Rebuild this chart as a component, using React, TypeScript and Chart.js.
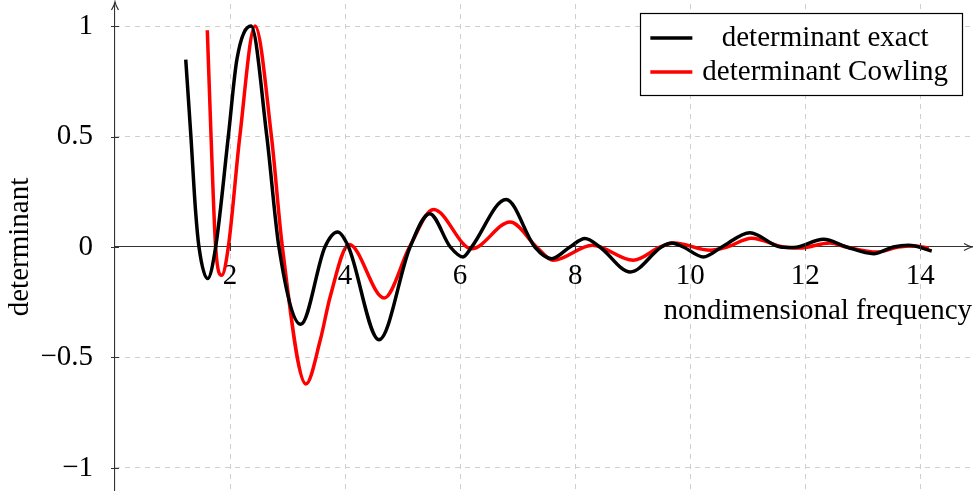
import { useEffect, useRef } from "react";
import { Chart, registerables } from "chart.js";
import type { Plugin } from "chart.js";

Chart.register(...registerables);

// Determinant vs. nondimensional frequency: exact problem
const EXACT_FREQ = [
  1.23, 1.32, 1.4, 1.46, 1.61, 1.75, 1.97, 2.12, 2.365, 2.64, 2.85, 3.23, 3.65,
  3.87, 4.06, 4.59, 5.13, 5.47, 5.83, 6.05, 6.2, 6.8, 7.3, 7.59, 7.91, 8.17,
  8.43, 8.96, 9.5, 9.68, 9.88, 10.23, 10.55, 11.04, 11.57, 11.8, 12.32, 12.72,
  13.19, 13.53, 13.8, 14.2,
];
const EXACT_DET = [
  0.848, 0.5, 0.166, 0, -0.143, 0, 0.5, 0.85, 1.0, 0.5, 0, -0.35, 0, 0.068, 0,
  -0.42, 0, 0.151, 0, -0.045, 0, 0.215, 0, -0.053, 0, 0.038, 0, -0.113, 0,
  0.018, 0, -0.045, 0, 0.065, 0, -0.002, 0.035, 0, -0.03, 0, 0.008, -0.018,
];

// Determinant under the Cowling approximation
const COWLING_FREQ = [
  1.605, 1.67, 1.75, 1.855, 1.97, 2.17, 2.435, 2.72, 2.91, 3.32, 3.57, 3.74,
  4.07, 4.68, 5.12, 5.54, 6.2, 6.87, 7.33, 7.62, 8.3, 9.01, 9.48, 9.72, 10.35,
  10.64, 11.07, 11.62, 11.9, 12.43, 12.72, 13.25, 13.62, 13.89, 14.15,
];
const COWLING_DET = [
  0.981, 0.5, 0, -0.128, 0, 0.5, 1.0, 0.5, 0, -0.62, -0.42, -0.226, 0.011,
  -0.231, 0, 0.17, -0.008, 0.113, 0, -0.06, 0.008, -0.06, 0, 0.018, -0.015, 0,
  0.04, 0, -0.005, 0.018, 0, -0.023, 0, 0.005, -0.005,
];

const SERIES_NAMES = ["determinant exact", "determinant Cowling"];
const SERIES_COLORS = ["#000000", "#ff0000"];
const X_TICKS = [2, 4, 6, 8, 10, 12, 14];
const Y_TICKS = [-1, -0.5, 0, 0.5, 1];
const X_TITLE = "nondimensional frequency";
const Y_TITLE = "determinant";

const FONT_FAMILY = '"Liberation Serif", "Times New Roman", serif';
const FONT_SIZE = 29;
const AXIS_COLOR = "#333333";
const GRID_COLOR = "#cfcfcf";

const toPoints = (xs: number[], ys: number[]) =>
  xs.map((x, i) => ({ x, y: ys[i] }));

const formatTick = (v: number) =>
  v < 0 ? "\u2212" + String(-v) : String(v);

// Axis arrows, small tick marks across the axes, and a boxed legend
const axisDecor: Plugin = {
  id: "axisDecor",
  afterDatasetsDraw(chart) {
    const { ctx, chartArea, scales } = chart;
    const xs = scales.x;
    const ys = scales.y;
    const y0 = ys.getPixelForValue(0);
    const left = chartArea.left;
    const right = chartArea.right;
    ctx.save();
    ctx.strokeStyle = AXIS_COLOR;
    ctx.lineWidth = 1.1;
    // tick marks
    ctx.beginPath();
    for (const v of Y_TICKS) {
      const py = Math.round(ys.getPixelForValue(v)) + 0.5;
      ctx.moveTo(left - 4, py);
      ctx.lineTo(left + 4, py);
    }
    for (const v of X_TICKS) {
      const px = Math.round(xs.getPixelForValue(v)) + 0.5;
      ctx.moveTo(px, y0 - 4);
      ctx.lineTo(px, y0 + 4);
    }
    ctx.stroke();
    // y-axis extension and arrow head
    const tipY = chartArea.top - 2;
    ctx.beginPath();
    ctx.moveTo(left, chartArea.top);
    ctx.lineTo(left, tipY);
    ctx.stroke();
    ctx.lineWidth = 1.2;
    ctx.beginPath();
    ctx.moveTo(left - 3.5, tipY + 8);
    ctx.quadraticCurveTo(left - 0.6, tipY + 3, left, tipY);
    ctx.quadraticCurveTo(left + 0.6, tipY + 3, left + 3.5, tipY + 8);
    ctx.stroke();
    // x-axis arrow head
    ctx.beginPath();
    ctx.moveTo(right - 8, y0 - 3.5);
    ctx.quadraticCurveTo(right - 3, y0 - 0.6, right, y0);
    ctx.quadraticCurveTo(right - 3, y0 + 0.6, right - 8, y0 + 3.5);
    ctx.stroke();
    ctx.restore();
  },
  afterDraw(chart) {
    const { ctx, chartArea } = chart;
    const datasets = chart.data.datasets;
    ctx.save();
    ctx.font = `${FONT_SIZE}px ${FONT_FAMILY}`;
    const labels = datasets.map((d) => String(d.label));
    const textW = Math.max(...labels.map((l) => ctx.measureText(l).width));
    const padL = 10;
    const sampleW = 42;
    const gap = 10;
    const padR = 14;
    const rowH = 34;
    const padT = 8;
    const padB = 6;
    const boxW = padL + sampleW + gap + textW + padR;
    const boxH = padT + rowH * labels.length + padB;
    const boxRight = chartArea.right - 10;
    const boxTop = chartArea.top + 9;
    const boxLeft = boxRight - boxW;
    ctx.fillStyle = "#ffffff";
    ctx.fillRect(boxLeft, boxTop, boxW, boxH);
    ctx.strokeStyle = "#000000";
    ctx.lineWidth = 1.2;
    ctx.strokeRect(
      Math.round(boxLeft) + 0.5,
      Math.round(boxTop) + 0.5,
      Math.round(boxW),
      Math.round(boxH)
    );
    const textCenter = boxLeft + padL + sampleW + gap + textW / 2;
    labels.forEach((label, i) => {
      const cy = boxTop + padT + rowH * i + rowH / 2;
      ctx.strokeStyle = String(datasets[i].borderColor);
      ctx.lineWidth = 3.5;
      ctx.beginPath();
      ctx.moveTo(boxLeft + padL, cy);
      ctx.lineTo(boxLeft + padL + sampleW, cy);
      ctx.stroke();
      ctx.fillStyle = "#000000";
      ctx.textAlign = "center";
      ctx.textBaseline = "middle";
      ctx.fillText(label, textCenter, cy);
    });
    ctx.restore();
  },
};

export default function App() {
  const canvasRef = useRef<HTMLCanvasElement | null>(null);

  useEffect(() => {
    const canvas = canvasRef.current;
    if (!canvas) return;
    const font = { family: FONT_FAMILY, size: FONT_SIZE };
    const chart = new Chart(canvas, {
      type: "line",
      data: {
        datasets: [
          {
            label: SERIES_NAMES[0],
            data: toPoints(EXACT_FREQ, EXACT_DET),
            borderColor: SERIES_COLORS[0],
            borderWidth: 3.5,
            pointRadius: 0,
            cubicInterpolationMode: "monotone",
            fill: false,
          },
          {
            label: SERIES_NAMES[1],
            data: toPoints(COWLING_FREQ, COWLING_DET),
            borderColor: SERIES_COLORS[1],
            borderWidth: 3.5,
            pointRadius: 0,
            cubicInterpolationMode: "monotone",
            fill: false,
          },
        ],
      },
      options: {
        responsive: false,
        animation: false,
        devicePixelRatio: 1,
        layout: { padding: { left: 0, right: 1, top: 4, bottom: 1 } },
        plugins: {
          legend: { display: false },
          tooltip: { enabled: false },
        },
        scales: {
          x: {
            type: "linear",
            position: { y: 0 },
            min: 0,
            max: 14.9,
            afterBuildTicks: (scale) => {
              scale.ticks = X_TICKS.map((value) => ({ value }));
            },
            afterFit: (scale) => {
              scale.paddingLeft = 0;
              scale.paddingRight = 0;
            },
            ticks: {
              font,
              color: "#000000",
              padding: 12,
              maxRotation: 0,
              autoSkip: false,
              callback: (v) => formatTick(Number(v)),
            },
            grid: {
              color: GRID_COLOR,
              lineWidth: 1,
              drawTicks: false,
            },
            border: {
              display: true,
              color: AXIS_COLOR,
              width: 1.1,
              dash: [5, 5],
            },
            title: {
              display: true,
              text: X_TITLE,
              align: "end",
              font,
              color: "#000000",
              padding: { top: -12, bottom: 0 },
            },
          },
          y: {
            type: "linear",
            position: "left",
            min: -1.1,
            max: 1.1,
            afterBuildTicks: (scale) => {
              scale.ticks = Y_TICKS.map((value) => ({ value }));
            },
            afterFit: (scale) => {
              scale.width = 115;
              scale.paddingTop = 0;
              scale.paddingBottom = 0;
            },
            ticks: {
              font,
              color: "#000000",
              padding: 22,
              autoSkip: false,
              callback: (v) => formatTick(Number(v)),
            },
            grid: {
              color: (c) =>
                c.tick && c.tick.value === 0 ? "rgba(0,0,0,0)" : GRID_COLOR,
              lineWidth: 1,
              drawTicks: false,
            },
            border: {
              display: true,
              color: AXIS_COLOR,
              width: 1.1,
              dash: [5, 5],
            },
            title: {
              display: true,
              text: Y_TITLE,
              font,
              color: "#000000",
              padding: { top: 3, bottom: 0 },
            },
          },
        },
      },
      plugins: [axisDecor],
    });
    return () => chart.destroy();
  }, []);

  return (
    <div
      style={{
        position: "absolute",
        left: 0,
        top: 0,
        width: 973,
        height: 491,
        background: "#ffffff",
      }}
    >
      <canvas
        ref={canvasRef}
        width={973}
        height={491}
        style={{ display: "block", width: 973, height: 491 }}
      />
    </div>
  );
}
